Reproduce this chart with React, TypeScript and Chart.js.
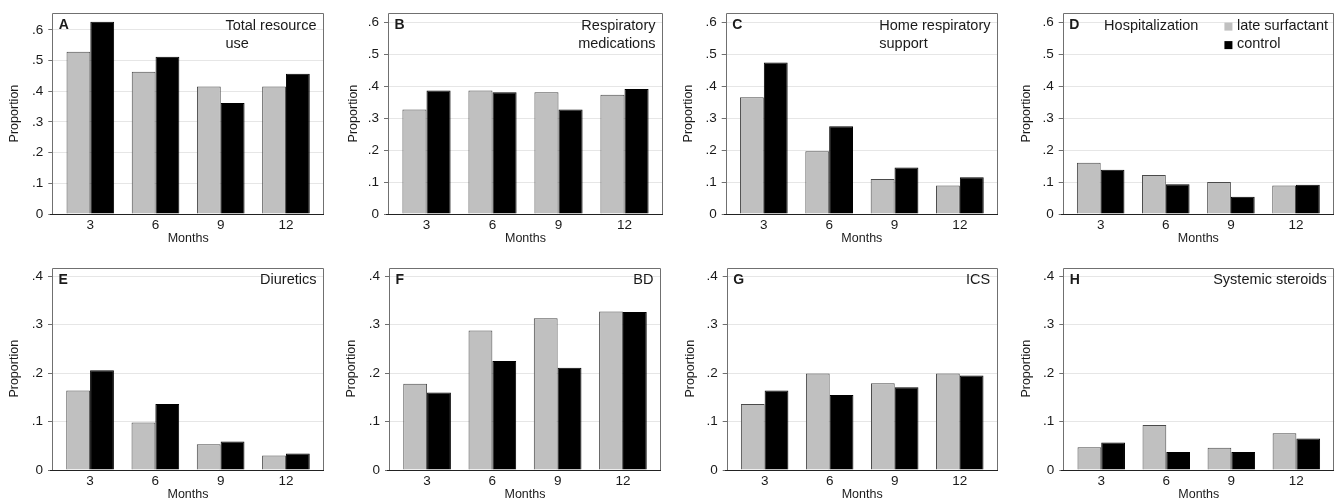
import React, { useEffect, useRef } from 'react';
import { Chart, registerables } from 'chart.js';

Chart.register(...registerables);
Chart.defaults.font.family = "'Liberation Sans', Arial, sans-serif";

// ---------- data ----------
const months = [3, 6, 9, 12];
const seriesNames = ['late surfactant', 'control'];

const totalLate = [0.529, 0.464, 0.416, 0.416];
const totalControl = [0.627, 0.513, 0.362, 0.457];
const respMedLate = [0.328, 0.387, 0.382, 0.374];
const respMedControl = [0.387, 0.382, 0.328, 0.392];
const homeRespLate = [0.366, 0.197, 0.11, 0.089];
const homeRespControl = [0.475, 0.275, 0.146, 0.115];
const hospLate = [0.161, 0.122, 0.1, 0.089];
const hospControl = [0.139, 0.093, 0.054, 0.092];
const diureticsLate = [0.164, 0.098, 0.053, 0.03];
const diureticsControl = [0.206, 0.136, 0.059, 0.034];
const bdLate = [0.178, 0.288, 0.313, 0.327];
const bdControl = [0.16, 0.225, 0.211, 0.326];
const icsLate = [0.136, 0.199, 0.179, 0.199];
const icsControl = [0.164, 0.155, 0.171, 0.195];
const steroidsLate = [0.047, 0.093, 0.046, 0.076];
const steroidsControl = [0.057, 0.037, 0.037, 0.065];

const lateSeries = [totalLate, respMedLate, homeRespLate, hospLate, diureticsLate, bdLate, icsLate, steroidsLate];
const controlSeries = [totalControl, respMedControl, homeRespControl, hospControl, diureticsControl, bdControl, icsControl, steroidsControl];

const panelLetters = ['A', 'B', 'C', 'D', 'E', 'F', 'G', 'H'];
const panelTitles = [
  ['Total resource', 'use'],
  ['Respiratory', 'medications'],
  ['Home respiratory', 'support'],
  ['Hospitalization'],
  ['Diuretics'],
  ['BD'],
  ['ICS'],
  ['Systemic steroids'],
];
const yMaxes = [0.655, 0.63, 0.63, 0.63, 0.418, 0.418, 0.418, 0.418];
const xAxisTitle = 'Months';
const yAxisTitle = 'Proportion';

// ---------- layout / style ----------
const titleAligns = ['left', 'right', 'left', 'right', 'right', 'right', 'right', 'right'];
const legendPanel = 3;
const colX = [0, 336, 671, 1006];
const colW = [336, 335, 335, 336];
const rowY = [0, 251];
const rowH = 251;
const plotLeft = [52.3, 388, 725.7, 1062.7, 52, 389, 726.7, 1063.3];
const plotRight = [324, 663, 998, 1334, 324, 661, 997.7, 1334.3];
const yTitleX = [15, 353.3, 688.3, 1026.7, 15, 351.7, 691, 1026.7];
const plotTop = [11, 267.5];
const plotBottom = [214, 470];
const X_AXIS_H = 32;
const TEXT = '#1a1a1a';
const GRAY = '#c0c0c0';
const FAMILY = "'Liberation Sans', Arial, sans-serif";

const decorPlugin = {
  id: 'panelDecor',
  afterDraw(chart: any, _args: any, opts: any) {
    const { ctx, chartArea: a } = chart;
    const L = Math.round(a.left) + 0.5;
    const R = Math.round(a.right) - 0.5;
    const T = Math.round(a.top) + 0.5;
    const B = Math.round(a.bottom) + 0.5;
    ctx.save();
    ctx.lineWidth = 1;
    ctx.strokeStyle = '#707070';
    ctx.beginPath();
    ctx.moveTo(L, B);
    ctx.lineTo(L, T);
    ctx.lineTo(R, T);
    ctx.lineTo(R, B);
    ctx.stroke();
    ctx.strokeStyle = '#222';
    ctx.beginPath();
    ctx.moveTo(L - 2.5, B);
    ctx.lineTo(R + 0.5, B);
    ctx.stroke();

    ctx.fillStyle = TEXT;
    ctx.textBaseline = 'middle';
    const line1 = a.top + 12.5;
    const lineGap = 18.5;
    // letter
    ctx.font = `bold 14px ${FAMILY}`;
    ctx.textAlign = 'left';
    ctx.fillText(opts.letter, a.left + 6.5, line1);

    ctx.font = `14.5px ${FAMILY}`;
    let titleRight = a.right - 7.5;
    if (opts.legend) {
      const labels = chart.data.datasets.map((d: any) => d.label);
      const maxW = Math.max(...labels.map((s: string) => ctx.measureText(s).width));
      const textX = a.right - 6 - maxW;
      chart.data.datasets.forEach((d: any, i: number) => {
        const y = line1 + i * lineGap;
        ctx.fillStyle = d.backgroundColor;
        ctx.fillRect(textX - 12.5, y - 3, 8, 8);
        ctx.fillStyle = TEXT;
        ctx.textAlign = 'left';
        ctx.fillText(d.label, textX, y);
      });
      titleRight = textX - 12.5 - 26;
    }
    const lines: string[] = opts.title;
    const maxW = Math.max(...lines.map((s) => ctx.measureText(s).width));
    lines.forEach((s, i) => {
      const y = line1 + i * lineGap;
      if (opts.align === 'left') {
        ctx.textAlign = 'left';
        ctx.fillText(s, titleRight - maxW, y);
      } else {
        ctx.textAlign = 'right';
        ctx.fillText(s, titleRight, y);
      }
    });
    ctx.restore();
  },
};

function Panel({ index }: { index: number }) {
  const ref = useRef<HTMLCanvasElement>(null);
  const col = index % 4;
  const row = Math.floor(index / 4);
  const x0 = colX[col];
  const w = colW[col];
  const y0 = rowY[row];
  const h = rowH;

  useEffect(() => {
    if (!ref.current) return;
    const L = plotLeft[index];
    const R = plotRight[index];
    const T = plotTop[row];
    const B = plotBottom[row];
    const scaleLeft = yTitleX[index] - 7.5;
    const padLeft = scaleLeft - x0;
    const yWidth = L - scaleLeft;
    const padRight = x0 + w - R;
    const padTop = T - y0;
    const padBottom = Math.max(y0 + h - B - X_AXIS_H, 0);

    const chart = new Chart(ref.current, {
      type: 'bar',
      data: {
        labels: months,
        datasets: [
          {
            label: seriesNames[0],
            data: lateSeries[index],
            backgroundColor: GRAY,
            borderColor: '#4a4a4a',
            borderWidth: 1,
            barPercentage: 1,
            categoryPercentage: 0.73,
          },
          {
            label: seriesNames[1],
            data: controlSeries[index],
            backgroundColor: '#000000',
            borderColor: '#000000',
            borderWidth: 1,
            barPercentage: 1,
            categoryPercentage: 0.73,
          },
        ],
      },
      options: {
        responsive: false,
        animation: false,
        events: [],
        layout: { padding: { left: padLeft, right: padRight, top: padTop, bottom: padBottom } },
        plugins: {
          legend: { display: false },
          tooltip: { enabled: false },
          panelDecor: {
            letter: panelLetters[index],
            title: panelTitles[index],
            align: titleAligns[index],
            legend: index === legendPanel,
          },
        } as any,
        scales: {
          x: {
            type: 'linear',
            min: 1.25,
            max: 13.75,
            offset: false,
            grid: { display: false, drawTicks: false, offset: false },
            border: { display: false },
            ticks: {
              stepSize: 3,
              includeBounds: false,
              padding: 3,
              color: TEXT,
              font: { size: 13.5 },
            },
            title: {
              display: true,
              text: xAxisTitle,
              color: TEXT,
              font: { size: 12.5 },
              padding: 0,
            },
            afterFit: (s: any) => {
              s.height = X_AXIS_H;
            },
          },
          y: {
            min: 0,
            max: yMaxes[index],
            grid: {
              color: '#e6e6e6',
              drawTicks: true,
              tickLength: 4,
              tickColor: '#707070',
            },
            border: { display: false },
            ticks: {
              stepSize: 0.1,
              includeBounds: false,
              padding: 5,
              color: TEXT,
              font: { size: 13.5 },
              callback: (v: any) => (Number(v) === 0 ? '0' : Number(v).toFixed(1).replace(/^0/, '')),
            },
            title: {
              display: true,
              text: yAxisTitle,
              color: TEXT,
              font: { size: 12.5 },
              padding: 0,
            },
            afterFit: (s: any) => {
              s.width = yWidth;
            },
          },
        } as any,
      },
      plugins: [decorPlugin],
    });
    return () => chart.destroy();
  }, [index]);

  return (
    <canvas
      ref={ref}
      width={w}
      height={h}
      style={{ position: 'absolute', left: x0, top: y0, width: w, height: h }}
    />
  );
}

export default function App() {
  return (
    <div
      style={{
        position: 'absolute',
        left: 0,
        top: 0,
        width: 1342,
        height: 502,
        background: '#ffffff',
        overflow: 'hidden',
      }}
    >
      {panelLetters.map((_, i) => (
        <Panel key={i} index={i} />
      ))}
    </div>
  );
}
